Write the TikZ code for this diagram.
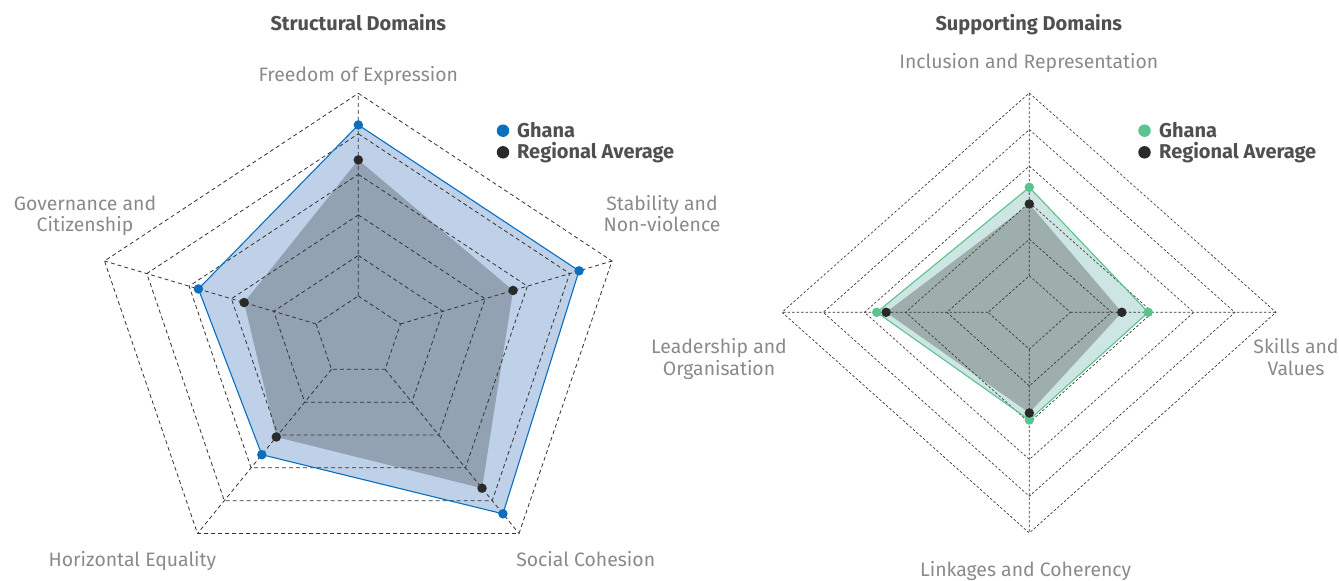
\documentclass[tikz,border=0pt]{standalone}
\usepackage{fontspec}
\setmainfont{Fira Sans}
\usetikzlibrary{calc}
\definecolor{gblue}{HTML}{0B6FBE}
\definecolor{gbluefill}{HTML}{BED1E8}
\definecolor{regfillL}{HTML}{93A2B3}
\definecolor{ggreen}{HTML}{5CC28F}
\definecolor{ggreenfill}{HTML}{CDE5E3}
\definecolor{regfillR}{HTML}{9DAEAD}
\definecolor{dotdark}{HTML}{2A2A2A}
\definecolor{labelgray}{HTML}{8A8A8A}
\definecolor{titlegray}{HTML}{505050}
\definecolor{gridline}{HTML}{333333}
\begin{document}
\begin{tikzpicture}[x=1pt,y=-1pt,
  gridL/.style={draw=gridline, line width=0.8pt, dash pattern=on 4pt off 3pt},
  gridR/.style={draw=gridline, line width=0.65pt, dash pattern=on 2.5pt off 2pt},
  lbl/.style={text=labelgray, font=\fontsize{19.4}{23}\selectfont, inner sep=0, anchor=base},
  ttl/.style={text=titlegray, font=\bfseries\fontsize{20}{24}\selectfont, inner sep=0, anchor=base},
  leg/.style={text=titlegray, font=\bfseries\fontsize{20}{24}\selectfont, inner sep=0, anchor=base west},
  legdot/.style={circle, inner sep=0, minimum size=12.5pt},
  ptdot/.style={circle, inner sep=0, minimum size=9.5pt},
  ]
\useasboundingbox (0,0) rectangle (1339,581);
% ---------------- left chart geometry
\coordinate (LC) at (358.3,336.5);
\coordinate (L0) at (358.3,93.3);
\coordinate (L1) at (612,261);
\coordinate (L2) at (519,533.5);
\coordinate (L3) at (197.5,533.5);
\coordinate (L4) at (104.5,261);
% Ghana values
\coordinate (LG0) at ($(LC)!0.87!(L0)$);
\coordinate (LG1) at ($(LC)!0.87!(L1)$);
\coordinate (LG2) at ($(LC)!0.90!(L2)$);
\coordinate (LG3) at ($(LC)!0.60!(L3)$);
\coordinate (LG4) at ($(LC)!0.63!(L4)$);
% Regional values
\coordinate (LR0) at ($(LC)!0.726!(L0)$);
\coordinate (LR1) at ($(LC)!0.61!(L1)$);
\coordinate (LR2) at ($(LC)!0.77!(L2)$);
\coordinate (LR3) at ($(LC)!0.51!(L3)$);
\coordinate (LR4) at ($(LC)!0.45!(L4)$);
\fill[gbluefill] (LG0) -- (LG1) -- (LG2) -- (LG3) -- (LG4) -- cycle;
\fill[regfillL] (LR0) -- (LR1) -- (LR2) -- (LR3) -- (LR4) -- cycle;
\foreach \k in {1,...,6}
  \draw[gridL] ($(LC)!\k/6!(L0)$) -- ($(LC)!\k/6!(L1)$) -- ($(LC)!\k/6!(L2)$) -- ($(LC)!\k/6!(L3)$) -- ($(LC)!\k/6!(L4)$) -- cycle;
\foreach \v in {L0,L1,L2,L3,L4}
  \draw[gridL] ($(LC)!1/6!(\v)$) -- (\v);
\draw[gblue, line width=1.1pt, line join=round] (LG0) -- (LG1) -- (LG2) -- (LG3) -- (LG4) -- cycle;
\foreach \i in {0,...,4} {
  \node[ptdot, fill=dotdark] (dLR\i) at (LR\i) {};
  \node[ptdot, fill=gblue] (dLG\i) at (LG\i) {};
}
% ---------------- left labels
\node[ttl] (t1) at (358.3,30.7) {Structural Domains};
\node[lbl] (a0) at (358.3,81.7) {Freedom of Expression};
\node[lbl] (a1a) at (662,210) {Stability and};
\node[lbl] (a1b) at (662,231.7) {Non-violence};
\node[lbl] (a2) at (585.7,566) {Social Cohesion};
\node[lbl] (a3) at (132.4,566) {Horizontal Equality};
\node[lbl] (a4a) at (85,210) {Governance and};
\node[lbl] (a4b) at (85,231.7) {Citizenship};
\node[legdot, fill=gblue] (lgd1) at (503,130.7) {};
\node[legdot, fill=dotdark] (lgd2) at (503,152.3) {};
\node[leg] (lgt1) at (517,137) {Ghana};
\node[leg] (lgt2) at (517,158.5) {Regional Average};
% ---------------- right chart geometry
\coordinate (RC) at (1029.3,312.3);
\coordinate (R0) at (1029.3,93);
\coordinate (R1) at (1276,312.3);
\coordinate (R2) at (1029.3,533);
\coordinate (R3) at (782,312.3);
\coordinate (RG0) at ($(RC)!0.57!(R0)$);
\coordinate (RG1) at ($(RC)!0.482!(R1)$);
\coordinate (RG2) at ($(RC)!0.488!(R2)$);
\coordinate (RG3) at ($(RC)!0.617!(R3)$);
\coordinate (RR0) at ($(RC)!0.494!(R0)$);
\coordinate (RR1) at ($(RC)!0.375!(R1)$);
\coordinate (RR2) at ($(RC)!0.456!(R2)$);
\coordinate (RR3) at ($(RC)!0.579!(R3)$);
\fill[ggreenfill] (RG0) -- (RG1) -- (RG2) -- (RG3) -- cycle;
\fill[regfillR] (RR0) -- (RR1) -- (RR2) -- (RR3) -- cycle;
\foreach \k in {1,...,6}
  \draw[gridR] ($(RC)!\k/6!(R0)$) -- ($(RC)!\k/6!(R1)$) -- ($(RC)!\k/6!(R2)$) -- ($(RC)!\k/6!(R3)$) -- cycle;
\foreach \v in {R0,R1,R2,R3}
  \draw[gridR] ($(RC)!1/6!(\v)$) -- (\v);
\draw[ggreen, line width=1.1pt, line join=round] (RG0) -- (RG1) -- (RG2) -- (RG3) -- cycle;
\foreach \i in {0,...,3} {
  \node[ptdot, fill=ggreen] (dRG\i) at (RG\i) {};
  \node[ptdot, fill=dotdark] (dRR\i) at (RR\i) {};
}
% ---------------- right labels
\node[ttl] (t2) at (1028.8,30.7) {Supporting Domains};
\node[lbl] (b0) at (1028.8,68.3) {Inclusion and Representation};
\node[lbl] (b1a) at (1296,353.3) {Skills and};
\node[lbl] (b1b) at (1296,375.3) {Values};
\node[lbl] (b2) at (1025.7,576.7) {Linkages and Coherency};
\node[lbl] (b3a) at (719,353.3) {Leadership and};
\node[lbl] (b3b) at (719,375.3) {Organisation};
\node[legdot, fill=ggreen] (rgd1) at (1144.5,130.7) {};
\node[legdot, fill=dotdark] (rgd2) at (1144.5,152.3) {};
\node[leg] (rgt1) at (1159,137) {Ghana};
\node[leg] (rgt2) at (1159,158.5) {Regional Average};
\end{tikzpicture}
\end{document}
